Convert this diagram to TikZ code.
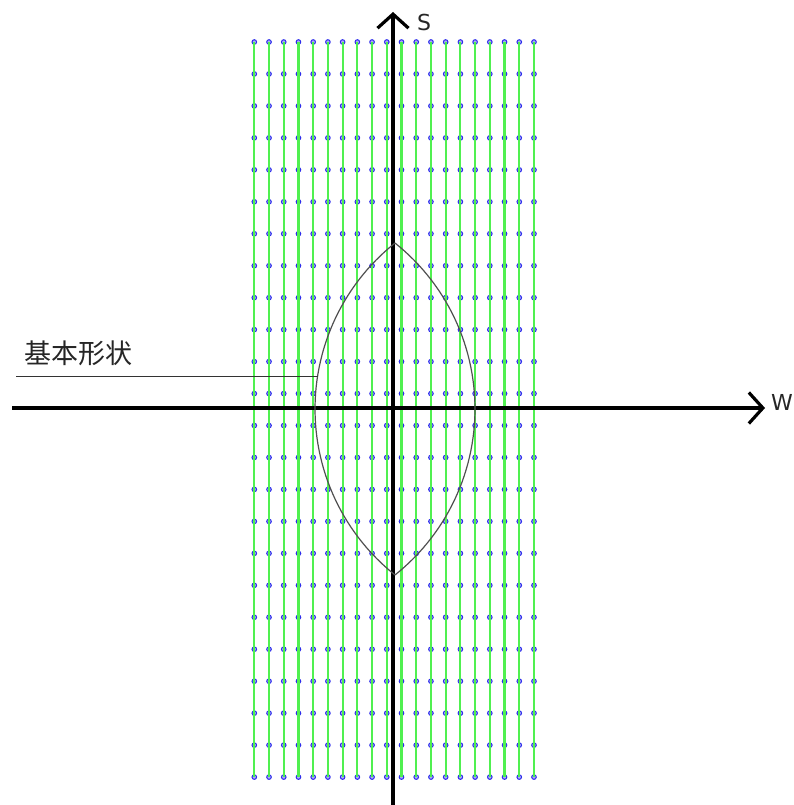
\documentclass[tikz,border=0pt]{standalone}
\usepackage{fontspec}
\setmainfont{DejaVu Sans}
\newfontfamily\cjk{Noto Sans CJK SC}
\usetikzlibrary{arrows.meta}
\definecolor{gridgreen}{RGB}{80,240,80}
\definecolor{dotblue}{RGB}{45,45,235}
\definecolor{lensgray}{RGB}{80,80,80}
\begin{document}
\begin{tikzpicture}[x=1pt,y=-1pt,
  gridline/.style={draw=gridgreen,line width=2.1pt},
  griddot/.style={draw=dotblue,fill=dotblue!40,line width=1pt},
  axisline/.style={draw=black,line width=3.2pt,-{Straight Barb[length=14pt,width=31pt,line width=3.2pt]}},
  lensline/.style={draw=lensgray,line width=1.2pt},
  leader/.style={draw=black!80,line width=1pt},
  axislabel/.style={font=\fontsize{22}{26}\selectfont,text=black!85,inner sep=0pt},
  cjklabel/.style={font=\cjk\fontsize{27}{32}\selectfont,text=black!85,inner sep=0pt}]
\useasboundingbox (0,0) rectangle (794,805);
% grid dots
\foreach \i in {0,...,19}{
  \foreach \j in {0,...,23}{
    \fill[griddot] ({254.3+14.72*\i},{42+31.96*\j}) circle (2.3pt);
  }
}
% grid lines
\foreach \i in {0,...,19}{
  \coordinate (gt\i) at ({254.3+14.72*\i},42);
  \coordinate (gb\i) at ({254.3+14.72*\i},777);
  \draw[gridline] (gt\i) -- (gb\i);
}
% axes
\coordinate (xstart) at (12,408);
\coordinate (xend) at (765,408);
\coordinate (ystart) at (393,805);
\coordinate (yend) at (393,12);
\draw[axisline] (xstart) -- (xend);
\draw[axisline] (ystart) -- (yend);
\node[axislabel] (S) at (424,22) {S};
\node[axislabel] (W) at (782,402) {W};
% lens
\draw[lensline] plot[domain=-51.46:51.46,samples=60,variable=\a] ({527.2-212.2*cos(\a)},{409+212.2*sin(\a)});
\draw[lensline] plot[domain=-51.46:51.46,samples=60,variable=\a] ({262.8+212.2*cos(\a)},{409+212.2*sin(\a)});
% label
\node[cjklabel] (lbl) at (78,353) {基本形状};
\coordinate (l1) at (16,376);
\coordinate (l2) at (318,376);
\draw[leader] (l1) -- (l2);
\end{tikzpicture}
\end{document}
